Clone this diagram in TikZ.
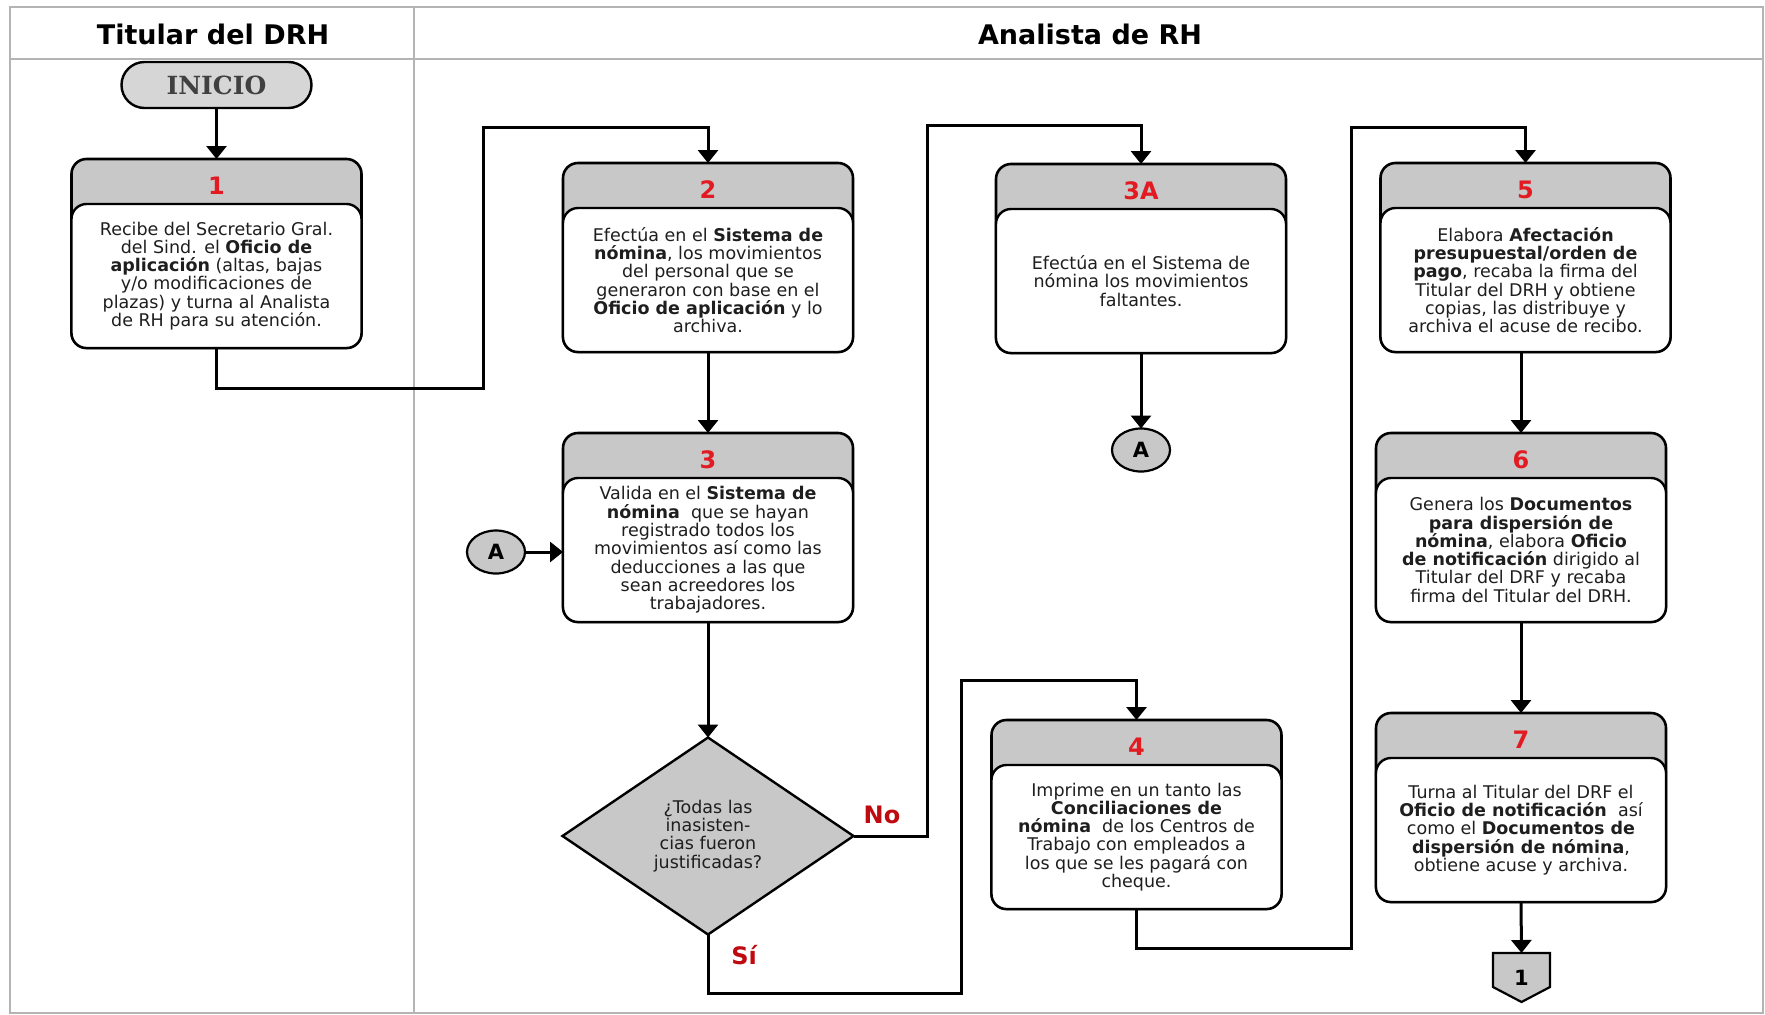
\documentclass[tikz,border=0pt]{standalone}
\usepackage{fontspec}
\setmainfont{DejaVu Sans}
\newfontfamily\slabfont{DejaVu Serif}
\usetikzlibrary{arrows.meta,shapes.geometric,calc}

\definecolor{boxgray}{RGB}{200,200,200}
\definecolor{termgray}{RGB}{214,214,214}
\definecolor{lanegray}{RGB}{180,180,180}
\definecolor{numred}{RGB}{226,26,34}
\definecolor{lblred}{RGB}{190,10,16}
\definecolor{txt}{RGB}{30,30,30}
\definecolor{termtxt}{RGB}{64,64,64}

\newcommand\bodyfont{\fontsize{17.5}{18.3}\selectfont}

\tikzset{
  lane/.style={draw=lanegray, line width=2pt},
  hdr/.style={font=\bfseries\fontsize{27}{27}\selectfont, text=black},
  box/.style={draw=black, line width=2.6pt, rounded corners=15pt, fill=boxgray,
    minimum width=290pt, minimum height=189pt, inner sep=0pt, outer sep=0pt},
  body/.style={draw=black, line width=2.4pt, rounded corners=15pt, fill=white,
    minimum width=290pt, minimum height=144pt, inner sep=0pt, outer sep=0pt,
    align=center, text=txt, font=\bodyfont},
  num/.style={text=numred, font=\bfseries\fontsize{24}{24}\selectfont},
  term/.style={draw=black, line width=2.4pt, rounded corners=23pt, fill=termgray,
    minimum width=190pt, minimum height=46pt, outer sep=0pt,
    text=termtxt, font=\slabfont\bfseries\fontsize{25}{25}\selectfont},
  dec/.style={diamond, draw=black, line width=2.4pt, fill=boxgray, inner sep=0pt, outer sep=0pt,
    minimum width=291pt, minimum height=197pt, align=center, text=txt, font=\bodyfont},
  conA/.style={ellipse, draw=black, line width=2.2pt, fill=boxgray, inner sep=0pt, outer sep=0pt,
    minimum width=58pt, minimum height=43pt, font=\bfseries\fontsize{21}{21}\selectfont},
  offp/.style={inner sep=0pt, outer sep=0pt, minimum width=57pt, minimum height=49pt,
    font=\bfseries\fontsize{21}{21}\selectfont},
  lbl/.style={text=lblred, font=\bfseries\fontsize{24}{24}\selectfont},
  conn/.style={line width=3pt, -{Triangle[length=13pt,width=20pt]}},
}

% process box: name, centre x, top y, step number, description
\newcommand\procbox[5]{%
  \node[box, anchor=north] (#1) at (#2,#3) {};
  \node[body, anchor=south] (#1b) at (#1.south) {#5};
  \node[num] (#1n) at ($(#1.north)!0.5!(#1b.north)+(0,4)$) {#4};
}

\begin{document}
\lineskiplimit=-20pt
\begin{tikzpicture}[x=1pt,y=-1pt]
\useasboundingbox (0,0) rectangle (1765,1015);
\fill[white] (0,0) rectangle (1765,1015);

% swimlanes
\draw[lane] (10,7) rectangle (1763,1013);
\draw[lane] (10,59) -- (1763,59);
\draw[lane] (414,7) -- (414,1013);
\node[hdr] (h1) at (213,34) {Titular\hspace{9.5pt}del\hspace{9.5pt}DRH};
\node[hdr] (h2) at (1090,34) {Analista de RH};

% start
\node[term] (ini) at (216.5,85) {INICIO};

% steps
\procbox{b1}{216.5}{159}{1}{Recibe del Secretario Gral.\\del Sind. el \textbf{Oficio de}\\\textbf{aplicación} (altas, bajas\\y/o modificaciones de\\plazas) y turna al Analista\\de RH para su atención.}
\procbox{b2}{708}{163}{2}{Efectúa en el \textbf{Sistema de}\\\textbf{nómina}, los movimientos\\del personal que se\\generaron con base en el\\\textbf{Oficio de aplicación} y lo\\archiva.}
\procbox{b3}{708}{433}{3}{Valida en el \textbf{Sistema de}\\\textbf{nómina}\ \ que se hayan\\registrado todos los\\movimientos así como las\\deducciones a las que\\sean acreedores los\\trabajadores.}
\procbox{b3a}{1141}{164}{3A}{Efectúa en el Sistema de\\nómina los movimientos\\faltantes.}
\procbox{b4}{1136.5}{720}{4}{Imprime en un tanto las\\\textbf{Conciliaciones de}\\\textbf{nómina}\ \ de los Centros de\\Trabajo con empleados a\\los que se les pagará con\\cheque.}
\procbox{b5}{1525.5}{163}{5}{Elabora \textbf{Afectación}\\\textbf{presupuestal/orden de}\\\textbf{pago}, recaba la firma del\\Titular del DRH y obtiene\\copias, las distribuye y\\archiva el acuse de recibo.}
\procbox{b6}{1521}{433}{6}{Genera los \textbf{Documentos}\\\textbf{para dispersión de}\\\textbf{nómina}, elabora \textbf{Oficio}\\\textbf{de notificación} dirigido al\\Titular del DRF y recaba\\firma del Titular del DRH.}
\procbox{b7}{1521}{713}{7}{Turna al Titular del DRF el\\\textbf{Oficio de notificación}\ \ así\\como el \textbf{Documentos de}\\\textbf{dispersión de nómina},\\obtiene acuse y archiva.}

% decision
\node[dec] (dec) at (708,836) {¿Todas las\\inasisten-\\cias fueron\\justificadas?};
\node[lbl] (lno) at (882,815) {No};
\node[lbl] (lsi) at (744,955) {Sí};

% on-page connectors
\node[conA] (ca1) at (496,552) {A};
\node[conA] (ca2) at (1141,450) {A};

% off-page connector
\node[offp] (p1) at (1521.5,977.5) {};
\draw[line width=2.2pt, fill=boxgray, line join=miter]
  (p1.north west) -- (p1.north east) -- ($(p1.south east)+(0,-15)$) -- (p1.south)
  -- ($(p1.south west)+(0,-15)$) -- cycle;
\node[offp] (p1t) at (p1) {1};

% bends of the routed connectors
\coordinate (r1a) at (483,388);
\coordinate (r1b) at (483,127);
\coordinate (r2a) at (927,125);
\coordinate (r3a) at (961,993);
\coordinate (r3b) at (961,680);
\coordinate (r4a) at (1351,948);
\coordinate (r4b) at (1351,127);

% flow
\draw[conn] (ini.south) -- (b1.north);
\draw[conn] (b1.south) |- (r1a) -- (r1b) -| (b2.north);
\draw[conn] (b2.south) -- (b3.north);
\draw[conn] (b3.south) -- (dec.north);
\draw[conn] (dec.east) -| (r2a) -| (b3a.north);
\draw[conn] (dec.south) |- (r3a) -- (r3b) -| (b4.north);
\draw[conn] (b3a.south) -- (ca2.north);
\draw[conn] (ca1.east) -- (ca1.east -| b3.west);
\draw[conn] (b4.south) |- (r4a) -- (r4b) -| (b5.north);
\draw[conn] (b6.north |- b5.south) -- (b6.north);
\draw[conn] (b6.south) -- (b7.north);
\draw[conn] (b7.south) -- (p1.north);
\end{tikzpicture}
\end{document}
